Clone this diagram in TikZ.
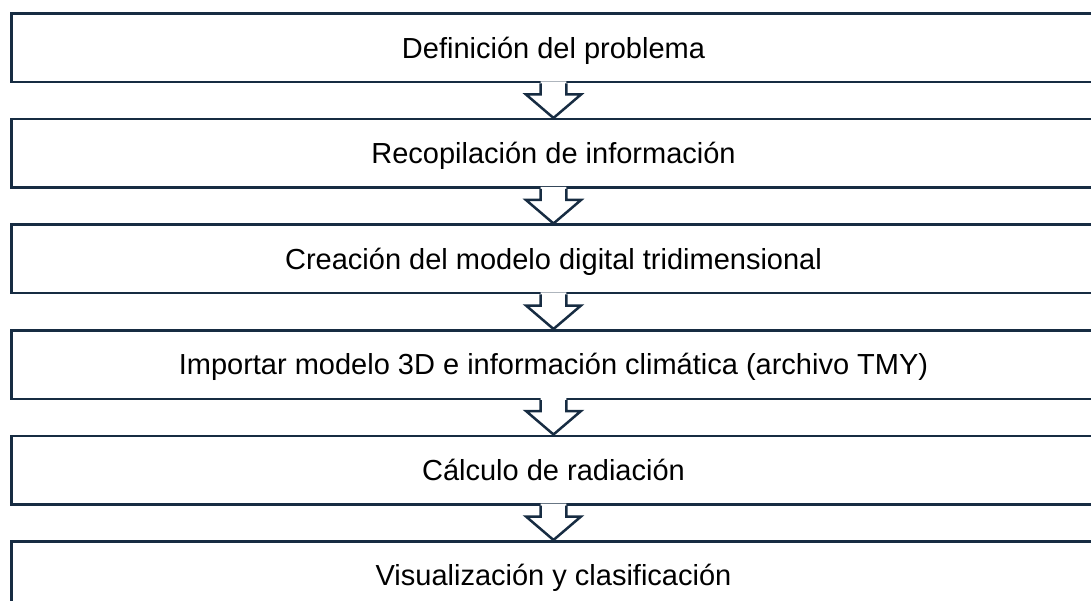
\documentclass[tikz,border=0pt]{standalone}
\usepackage{fontspec}
\setmainfont{Liberation Sans}
\usetikzlibrary{calc}
\definecolor{navy}{HTML}{172C42}
\tikzset{
  stage/.style={draw=navy,line width=2.5pt,fill=white,minimum width=1084pt,
    minimum height=68.5pt,inner sep=0pt,text height=20.8pt,text depth=0pt,
    font=\fontsize{29}{34}\selectfont},
  flow/.style={draw=navy,line width=2.5pt,line join=miter}
}

\begin{document}
\begin{tikzpicture}[x=1pt,y=-1pt]
\useasboundingbox (0,0) rectangle (1091,601);
\node[stage] (s1) at (553.5,48) {Definición del problema};
\node[stage] (s2) at (553.5,153.5) {Recopilación de información};
\node[stage] (s3) at (553.5,259) {Creación del modelo digital tridimensional};
\node[stage] (s4) at (553.5,364.5) {Importar modelo 3D e información climática (archivo TMY)};
\node[stage] (s5) at (553.5,470) {Cálculo de radiación};
\node[stage] (s6) at (553.5,575.5) {Visualización y clasificación};
% block arrows between the stages
\foreach \a/\b in {s1/s2,s2/s3,s3/s4,s4/s5,s5/s6}{
  \fill[white] ($(\a.south)+(-12.8,-2)$) -- ($(\a.south)+(-12.8,11)$)
    -- ($(\a.south)+(-27.5,11)$) -- (\b.north) -- ($(\a.south)+(27.5,11)$)
    -- ($(\a.south)+(12.8,11)$) -- ($(\a.south)+(12.8,-2)$) -- cycle;
  \draw[flow] ($(\a.south)+(-12.8,0)$) -- ($(\a.south)+(-12.8,11)$)
    -- ($(\a.south)+(-27.5,11)$) -- (\b.north) -- ($(\a.south)+(27.5,11)$)
    -- ($(\a.south)+(12.8,11)$) -- ($(\a.south)+(12.8,0)$);
}
\end{tikzpicture}
\end{document}
